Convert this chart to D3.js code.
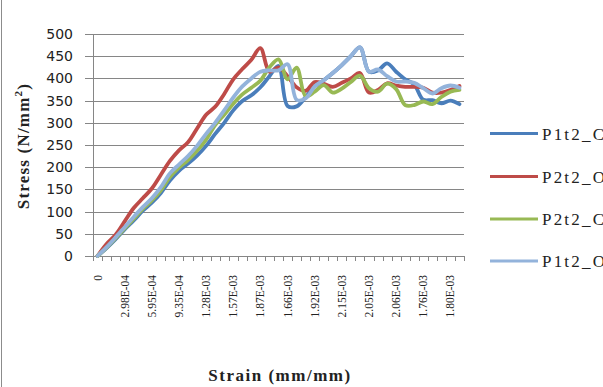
<!DOCTYPE html>
<html>
<head>
<meta charset="utf-8">
<script src="https://cdn.jsdelivr.net/npm/d3@7"></script>
<style>
  html, body { margin: 0; padding: 0; background: #fff; }
  svg { display: block; }
</style>
</head>
<body>
<svg id="chart" width="603" height="387"></svg>
<script>
// ---- data ----
const tickLabels = ["0","2.98E-04","5.95E-04","9.35E-04","1.28E-03","1.57E-03","1.87E-03",
  "1.66E-03","1.92E-03","2.15E-03","2.05E-03","2.06E-03","1.76E-03","1.80E-03"];
const categoryCount = 41;
const categories = d3.range(categoryCount);
const yTicks = [0,50,100,150,200,250,300,350,400,450,500];

const seriesNames = ["P1t2_C", "P2t2_O", "P2t2_C", "P1t2_O"];
const seriesColors = ["#4A7EBB", "#BE4B48", "#98B954", "#93B3DB"];

const p1t2C = [0,18,38,60,80,102,120,142,170,192,208,226,248,275,300,328,349,362,380,405,
  428,338,337,358,382,396,412,430,450,470,415,418,434,415,398,386,352,351,344,350,342];
const p2t2O = [0,27,48,78,108,130,152,183,214,238,256,287,318,336,365,398,421,442,468,415,
  425,405,380,372,392,388,381,390,400,412,368,374,389,384,381,381,379,368,368,374,383];
const p2t2C = [0,19,40,62,84,106,125,148,178,199,216,237,262,295,318,343,364,379,395,425,
  443,398,424,360,370,385,368,377,392,406,378,370,388,376,340,340,348,342,358,370,374];
const p1t2O = [0,20,42,65,88,110,130,155,186,206,225,248,275,300,328,357,382,400,415,418,
  418,432,352,355,382,396,412,430,450,470,415,420,405,393,393,390,378,366,378,384,379];
const seriesValues = [p1t2C, p2t2O, p2t2C, p1t2O];

// ---- layout ----
const svg = d3.select("#chart");
const L = 93, R = 464, T = 34, B = 256;
const axisColor = "#868686";

const x = d3.scaleBand().domain(categories).range([L, R]).paddingInner(0).paddingOuter(0);
const xEdge = d3.scaleLinear().domain([0, categoryCount]).range([L, R]);
const y = d3.scaleLinear().domain([0, 500]).range([B, T]);

// outer chart border (left edge visible)
svg.append("line").attr("x1", 1.5).attr("x2", 1.5).attr("y1", 0).attr("y2", 387)
  .attr("stroke", "#8c8c8c").attr("stroke-width", 1);

// gridlines
const grid = svg.append("g").attr("transform", `translate(${L},0)`)
  .call(d3.axisLeft(y).tickValues(yTicks).tickSize(-(R - L)).tickFormat(""));
grid.select(".domain").remove();
grid.selectAll("line").attr("stroke", axisColor).attr("shape-rendering", "crispEdges");

// y axis
const yAxis = svg.append("g").attr("transform", `translate(${L},0)`)
  .call(d3.axisLeft(y).tickValues(yTicks).tickSize(8).tickPadding(12));
yAxis.select(".domain").attr("stroke", axisColor).attr("shape-rendering", "crispEdges");
yAxis.selectAll(".tick line").attr("stroke", axisColor).attr("shape-rendering", "crispEdges");
yAxis.selectAll("text").attr("font-family", "DejaVu Sans").attr("font-size", "14px")
  .attr("fill", "#222");

// x axis ticks at category boundaries
const xTicks = svg.append("g").attr("transform", `translate(0,${B})`)
  .call(d3.axisBottom(xEdge).tickValues(d3.range(categoryCount + 1)).tickSize(5).tickFormat(""));
xTicks.select(".domain").attr("stroke", axisColor).attr("shape-rendering", "crispEdges");
xTicks.selectAll(".tick line").attr("stroke", axisColor).attr("shape-rendering", "crispEdges");

// x labels (every third category)
const xLab = svg.append("g").attr("transform", `translate(0,${B})`)
  .call(d3.axisBottom(x).tickValues(categories.filter(i => i % 3 === 0))
    .tickSize(0).tickFormat(i => tickLabels[i / 3]));
xLab.select(".domain").remove();
xLab.selectAll("text")
  .attr("font-family", "Liberation Serif").attr("font-size", "11.5px").attr("fill", "#222")
  .attr("text-anchor", "end")
  .attr("transform", "rotate(-90)")
  .attr("x", -19).attr("y", 0).attr("dy", "0.35em");

// lines
const line = d3.line()
  .x((d, i) => x(categories[i]) + x.bandwidth() / 2)
  .y(d => y(d))
  .curve(d3.curveCatmullRom.alpha(0.5));

seriesValues.forEach((vals, k) => {
  svg.append("path").datum(vals)
    .attr("fill", "none")
    .attr("stroke", seriesColors[k])
    .attr("stroke-width", 3.8)
    .attr("stroke-linejoin", "round")
    .attr("stroke-linecap", "round")
    .attr("d", line);
});

// axis titles
svg.append("text")
  .attr("x", 280).attr("y", 381)
  .attr("text-anchor", "middle")
  .attr("font-family", "Liberation Serif").attr("font-weight", "bold")
  .attr("font-size", "17px").attr("letter-spacing", "1.5px").attr("fill", "#222")
  .text("Strain (mm/mm)");

const yt = svg.append("text")
  .attr("transform", "translate(29,146) rotate(-90)")
  .attr("text-anchor", "middle")
  .attr("font-family", "Liberation Serif").attr("font-weight", "bold")
  .attr("font-size", "17px").attr("letter-spacing", "1.2px").attr("fill", "#222");
yt.append("tspan").text("Stress (N/mm");
yt.append("tspan").attr("font-size", "11px").attr("dy", -7).text("2");
yt.append("tspan").attr("dy", 7).text(")");

// legend
const legendY = [133.5, 176.5, 219, 261];
const lg = svg.append("g");
seriesNames.forEach((name, k) => {
  lg.append("line").attr("x1", 490).attr("x2", 538)
    .attr("y1", legendY[k]).attr("y2", legendY[k])
    .attr("stroke", seriesColors[k]).attr("stroke-width", 3);
  lg.append("text").attr("x", 542).attr("y", legendY[k] + 6)
    .attr("font-family", "Liberation Serif").attr("font-size", "17px")
    .attr("letter-spacing", "2.2px").attr("fill", "#222")
    .text(name);
});
</script>
</body>
</html>
